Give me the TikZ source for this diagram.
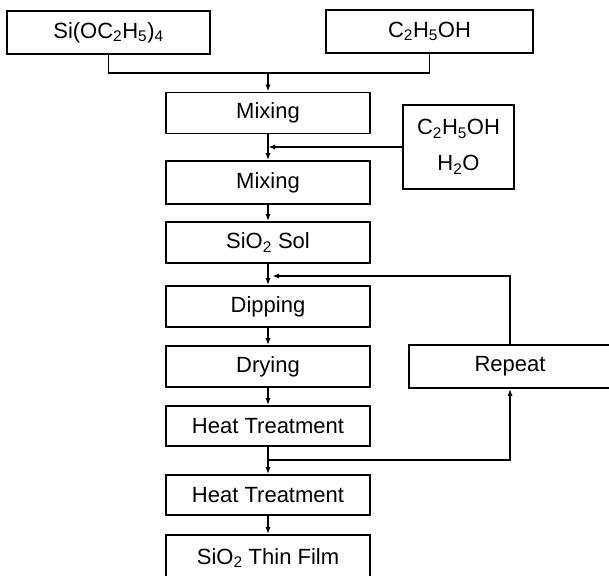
\documentclass[tikz,border=0pt]{standalone}
\usepackage{fontspec}
\setmainfont{Liberation Sans}
\usetikzlibrary{arrows.meta}
\newcommand\sbs[1]{\textsubscript{#1}}
\begin{document}
\begin{tikzpicture}[x=1pt,y=-1pt,
  box/.style={draw,line width=1.6pt,minimum width=204pt,minimum height=41pt,inner sep=0pt,
    font=\fontsize{22}{26}\selectfont},
  ln/.style={line width=1.6pt},
  arr/.style={line width=1.6pt,-{Latex[length=7pt,width=5pt]}}]
\useasboundingbox (0,0) rectangle (609,575);
% top inputs
\node[box,minimum width=203pt,minimum height=43pt] (si) at (108.5,32.5) {Si(OC\sbs{2}H\sbs{5})\sbs{4}};
\node[box,minimum width=207pt,minimum height=43pt] (eth) at (429.5,31.5) {C\sbs{2}H\sbs{5}OH};
% main chain
\node[box] (mix1) at (268,113) {Mixing};
\node[box,minimum height=43pt] (mix2) at (268,182.5) {Mixing};
\node[box] (sol) at (268,242.5) {SiO\sbs{2} Sol};
\node[box] (dip) at (268,306.5) {Dipping};
\node[box] (dry) at (268,366.5) {Drying};
\node[box,minimum height=40pt] (heat1) at (268,426) {Heat Treatment};
\node[box,minimum height=40pt] (heat2) at (268,495) {Heat Treatment};
\node[box,minimum height=46pt] (film) at (268,558) {SiO\sbs{2} Thin Film};
% side boxes
\node[box,minimum width=111pt,minimum height=84pt,align=center,
  font=\fontsize{22}{36}\selectfont] (add) at (458.5,147) {C\sbs{2}H\sbs{5}OH\\H\sbs{2}O};
\node[box,minimum width=202pt,minimum height=43pt] (rep) at (510,366.5) {Repeat};
% connectors
\coordinate (j) at (268,73);
\draw[ln] (si.south) |- (j);
\draw[ln] (eth.south) |- (j);
\draw[arr] (j) -- (mix1.north);
\draw[arr] (mix1.south) -- (mix2.north);
\coordinate (a1) at (mix1.south |- add.west);
\draw[arr] (add.west) -- (a1);
\draw[arr] (mix2.south) -- (sol.north);
\draw[arr] (sol.south) -- (dip.north);
\coordinate (r1) at (272,276);
\draw[arr] (rep.north) |- (r1);
\draw[arr] (dip.south) -- (dry.north);
\draw[arr] (dry.south) -- (heat1.north);
\draw[arr] (heat1.south) -- (heat2.north);
\coordinate (b1) at (268,460);
\draw[arr] (b1) -| (rep.south);
\draw[arr] (heat2.south) -- (film.north);
\end{tikzpicture}
\end{document}
